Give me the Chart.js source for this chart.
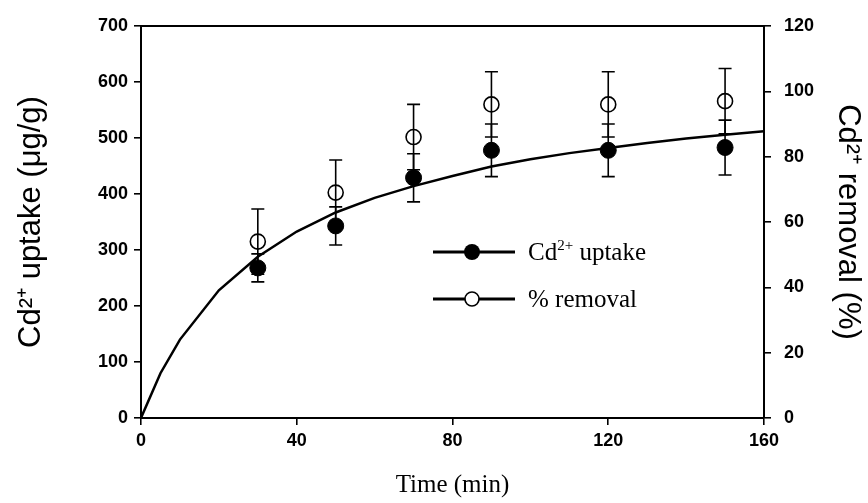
<!DOCTYPE html>
<html>
<head>
<meta charset="utf-8">
<script src="https://cdn.jsdelivr.net/npm/chart.js@4.4.0/dist/chart.umd.min.js"></script>
<style>
    html, body { margin: 0; padding: 0; background: #fff; }
</style>
</head>
<body>
<canvas id="kineticsChart" width="868" height="503"></canvas>
<script>
// sampling times (min)
var times = [30, 50, 70, 90, 120, 150];
// Cd2+ uptake (ug/g) with error
var uptake = [268, 343, 429, 478, 478, 483];
var uptakeErr = [25, 34, 43, 47, 47, 49];
// % removal with error
var removal = [54, 69, 86, 96, 96, 97];
var removalErr = [10, 10, 10, 10, 10, 10];
// fitted curve
var fitTimes = [0, 5, 10, 20, 30, 40, 50, 60, 70, 80, 90, 100, 110, 120, 130, 140, 150, 160];
var fitUptake = [0, 80, 140, 228, 288, 333, 367, 393, 414, 432, 449, 462, 473, 482, 491, 499, 506, 512];

function toPoints(xs, ys) {
    var pts = [];
    for (var i = 0; i < xs.length; i++) pts.push({ x: xs[i], y: ys[i] });
    return pts;
}

var errorBars = {
    id: 'errorBars',
    beforeDatasetsDraw: function (chart) {
        var ctx = chart.ctx;
        var xs = chart.scales.x;
        function draw(vals, errs, scale) {
            for (var i = 0; i < times.length; i++) {
                var px = xs.getPixelForValue(times[i]);
                var top = scale.getPixelForValue(vals[i] + errs[i]);
                var bot = scale.getPixelForValue(vals[i] - errs[i]);
                ctx.beginPath();
                ctx.moveTo(px, top); ctx.lineTo(px, bot);
                ctx.moveTo(px - 6.5, top); ctx.lineTo(px + 6.5, top);
                ctx.moveTo(px - 6.5, bot); ctx.lineTo(px + 6.5, bot);
                ctx.stroke();
            }
        }
        ctx.save();
        ctx.strokeStyle = '#000';
        ctx.lineWidth = 1.6;
        draw(uptake, uptakeErr, chart.scales.y);
        draw(removal, removalErr, chart.scales.y1);
        ctx.restore();
    }
};

// top edge of the frame + the legend inside the plot
var frameAndLegend = {
    id: 'frameAndLegend',
    afterDraw: function (chart) {
        var ctx = chart.ctx, a = chart.chartArea;
        ctx.save();
        ctx.strokeStyle = '#000';
        ctx.lineWidth = 2;
        ctx.beginPath();
        ctx.moveTo(a.left - 1, a.top);
        ctx.lineTo(a.right + 1, a.top);
        ctx.stroke();

        var serif = '"Liberation Serif", "Times New Roman", serif';
        var rows = [
            { y: a.top + 226, filled: true, main: 'Cd', sup: '2+', rest: ' uptake' },
            { y: a.top + 273, filled: false, main: '% removal', sup: '', rest: '' }
        ];
        rows.forEach(function (r) {
            var x0 = a.left + 292;
            ctx.lineWidth = 3;
            ctx.beginPath();
            ctx.moveTo(x0, r.y);
            ctx.lineTo(x0 + 82, r.y);
            ctx.stroke();
            ctx.beginPath();
            ctx.arc(x0 + 39, r.y, r.filled ? 8 : 7, 0, Math.PI * 2);
            if (r.filled) {
                ctx.fillStyle = '#000';
                ctx.fill();
            } else {
                ctx.fillStyle = '#fff';
                ctx.fill();
                ctx.lineWidth = 1.6;
                ctx.stroke();
            }
            ctx.fillStyle = '#000';
            ctx.textBaseline = 'alphabetic';
            ctx.font = '25px ' + serif;
            var tx = x0 + 95, by = r.y + 8;
            ctx.fillText(r.main, tx, by);
            tx += ctx.measureText(r.main).width;
            if (r.sup) {
                ctx.font = '15px ' + serif;
                ctx.fillText(r.sup, tx, by - 10);
                tx += ctx.measureText(r.sup).width;
                ctx.font = '25px ' + serif;
                ctx.fillText(r.rest, tx, by);
            }
        });
        ctx.restore();
    }
};

var tickFont = { family: '"Liberation Sans", Arial, sans-serif', size: 18, weight: 'bold' };
var axisTitleFont = { family: '"Liberation Sans", Arial, sans-serif', size: 31, lineHeight: 1.2 };

var ctx = document.getElementById('kineticsChart').getContext('2d');
var chart = new Chart(ctx, {
    type: 'scatter',
    data: {
        datasets: [{
            label: 'fit',
            data: toPoints(fitTimes, fitUptake),
            showLine: true,
            borderColor: '#000',
            borderWidth: 2.5,
            pointRadius: 0,
            tension: 0,
            yAxisID: 'y'
        }, {
            label: 'Cd2+ uptake',
            data: toPoints(times, uptake),
            pointRadius: 8,
            pointBackgroundColor: '#000',
            pointBorderColor: '#000',
            pointBorderWidth: 1,
            yAxisID: 'y'
        }, {
            label: '% removal',
            data: toPoints(times, removal),
            pointRadius: 7.5,
            pointBackgroundColor: 'rgba(0,0,0,0)',
            pointBorderColor: '#000',
            pointBorderWidth: 1.6,
            yAxisID: 'y1'
        }]
    },
    options: {
        responsive: false,
        animation: false,
        devicePixelRatio: 1,
        layout: { padding: { top: 26, left: 0, right: 0, bottom: 0 } },
        plugins: { legend: { display: false }, tooltip: { enabled: false } },
        scales: {
            x: {
                type: 'linear',
                min: 0, max: 160,
                ticks: { stepSize: 40, color: '#000', font: tickFont, padding: 5 },
                grid: { display: true, drawOnChartArea: false, drawTicks: true, tickLength: 7, color: '#000', lineWidth: 1.6 },
                border: { display: true, color: '#000', width: 2 },
                title: { display: true, text: 'Time (min)', color: '#000',
                    font: { family: '"Liberation Serif", "Times New Roman", serif', size: 25, lineHeight: 1.2 },
                    padding: { top: 0, bottom: 3 } },
                afterFit: function (s) { s.height = 85; }
            },
            y: {
                position: 'left',
                min: 0, max: 700,
                ticks: { stepSize: 100, color: '#000', font: tickFont, padding: 6 },
                grid: { display: true, drawOnChartArea: false, drawTicks: true, tickLength: 7, color: '#000', lineWidth: 1.6 },
                border: { display: true, color: '#000', width: 2 },
                title: { display: true, text: 'Cd²⁺ uptake (μg/g)', color: '#000', font: axisTitleFont,
                    padding: { top: 13, bottom: 0 } },
                afterFit: function (s) { s.width = 141; }
            },
            y1: {
                position: 'right',
                min: 0, max: 120,
                ticks: { stepSize: 20, color: '#000', font: tickFont, padding: 13 },
                grid: { display: true, drawOnChartArea: false, drawTicks: true, tickLength: 7, color: '#000', lineWidth: 1.6 },
                border: { display: true, color: '#000', width: 2 },
                title: { display: true, text: 'Cd²⁺ removal (%)', color: '#000', font: axisTitleFont,
                    padding: { top: 2, bottom: 0 } },
                afterFit: function (s) { s.width = 104; }
            }
        }
    },
    plugins: [errorBars, frameAndLegend]
});
</script>
</body>
</html>
